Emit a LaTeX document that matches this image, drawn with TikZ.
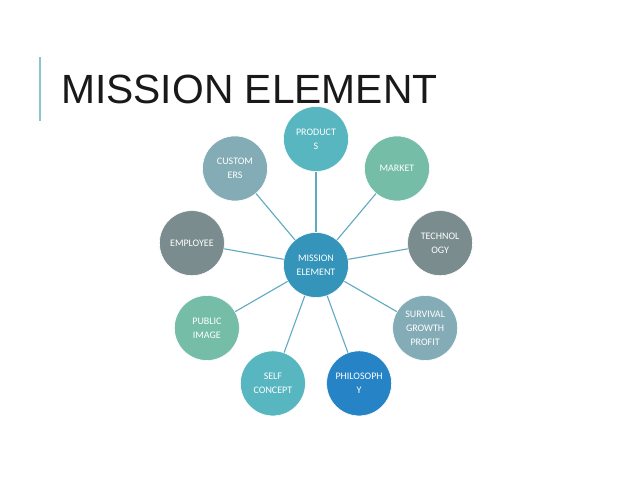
\documentclass[tikz,border=0pt]{standalone}
\usepackage{fontspec}
\setmainfont{Liberation Sans}
\newfontfamily\bubblefont{Carlito}
\usepackage{tikz}
\usetikzlibrary{positioning,calc}
\definecolor{bgblue}{HTML}{3494BA}
\definecolor{bgteal}{HTML}{58B6C0}
\definecolor{bggreen}{HTML}{75BDA7}
\definecolor{bggray}{HTML}{7A8C8E}
\definecolor{bgslate}{HTML}{84ACB6}
\definecolor{bgdeep}{HTML}{2683C6}
\definecolor{spokeline}{HTML}{5FA9C1}
\definecolor{titlebar}{HTML}{8CC3CF}
\tikzset{
  bubble/.style={circle, draw=white, line width=0.6pt, minimum size=65pt, inner sep=0pt, align=center, text=white, font=\bubblefont\fontsize{10}{14}\selectfont},
  hubbubble/.style={bubble, fill=bgblue},
  spoke/.style={line width=1.1pt, draw=spokeline},
  titletext/.style={font=\fontsize{40.8}{48}\selectfont, text=black!90, inner sep=0pt, anchor=base west}
}

\begin{document}
\begin{tikzpicture}[x=1pt, y=1pt]
  \useasboundingbox (0,0) rectangle (638,479);
  \fill[white] (0,0) rectangle (638,479);
  % title
  \draw[titlebar, line width=1.8pt] (40,358) -- (40,422);
  \node[titletext] (title) at (61,375) {MISSION ELEMENT};
  % hub and elements
  \node[hubbubble] (mission) at (316,214) {MISSION\\ELEMENT};
  \node[bubble, fill=bgteal] (products) at ($(mission)+(90:126)$) {PRODUCT\\S};
  \node[bubble, fill=bggreen] (market) at ($(mission)+(50:126)$) {MARKET};
  \node[bubble, fill=bggray] (technology) at ($(mission)+(10:126)$) {TECHNOL\\OGY};
  \node[bubble, fill=bgslate] (survival) at ($(mission)+(-30:126)$) {SURVIVAL\\GROWTH\\PROFIT};
  \node[bubble, fill=bgdeep] (philosophy) at ($(mission)+(-70:126)$) {PHILOSOPH\\Y};
  \node[bubble, fill=bgteal] (selfconcept) at ($(mission)+(-110:126)$) {SELF\\CONCEPT};
  \node[bubble, fill=bggreen] (publicimage) at ($(mission)+(-150:126)$) {PUBLIC\\IMAGE};
  \node[bubble, fill=bggray] (employee) at ($(mission)+(170:126)$) {EMPLOYEE};
  \node[bubble, fill=bgslate] (customers) at ($(mission)+(130:126)$) {CUSTOM\\ERS};
  % spokes
  \foreach \n in {products,market,technology,survival,philosophy,selfconcept,publicimage,employee,customers}
    \draw[spoke] (mission) -- (\n);
\end{tikzpicture}
\end{document}
